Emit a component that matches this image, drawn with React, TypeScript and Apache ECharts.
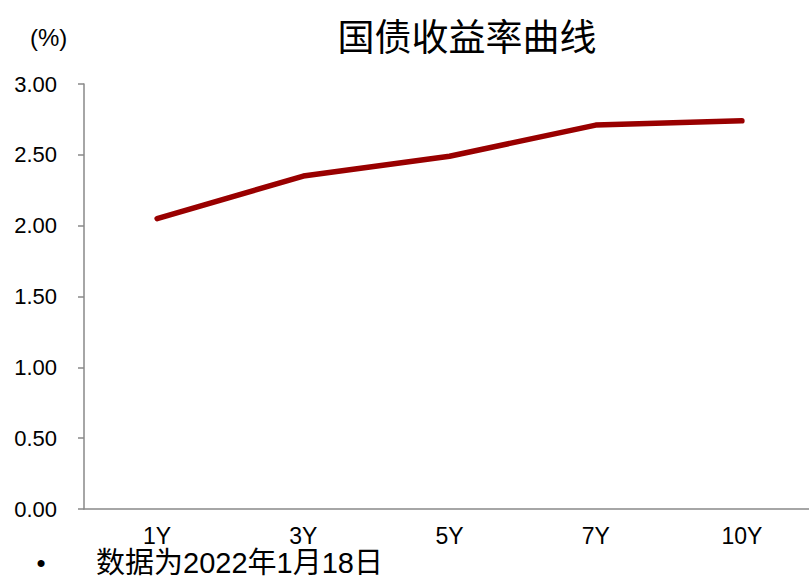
import React, { useEffect, useRef } from "react";
import * as echarts from "echarts";

const categories = ["1Y", "3Y", "5Y", "7Y", "10Y"];
const yields = [2.05, 2.35, 2.49, 2.71, 2.74];
const titleText = "国债收益率曲线";
const unitText = "(%)";
const noteText = "数据为2022年1月18日";

const FONT = "'Liberation Sans', Arial, 'Noto Sans CJK SC', sans-serif";

export default function App() {
  const ref = useRef<HTMLDivElement>(null);
  useEffect(() => {
    if (!ref.current) return;
    const chart = echarts.init(ref.current, null, { renderer: "svg" });
    chart.setOption({
      animation: false,
      backgroundColor: "#ffffff",
      grid: { left: 84, top: 84, width: 731, height: 425, containLabel: false },
      xAxis: {
        type: "category",
        data: categories,
        boundaryGap: true,
        axisLine: { lineStyle: { color: "#898989", width: 1.5 } },
        axisTick: { show: false },
        axisLabel: { color: "#000", fontFamily: FONT, fontSize: 23, margin: 15 },
      },
      yAxis: {
        type: "value",
        min: 0,
        max: 3,
        interval: 0.5,
        splitLine: { show: false },
        axisLine: { show: true, lineStyle: { color: "#898989", width: 1.5 } },
        axisTick: { show: true, length: 6, lineStyle: { color: "#898989", width: 1.5 } },
        axisLabel: {
          color: "#000",
          fontFamily: FONT,
          fontSize: 22,
          margin: 27,
          formatter: (v: number) => v.toFixed(2),
        },
      },
      series: [
        {
          type: "line",
          data: yields,
          symbol: "none",
          lineStyle: { color: "#990000", width: 5.5, cap: "round", join: "round" },
        },
      ],
      graphic: [
        {
          type: "text",
          x: 467,
          y: 38,
          style: {
            text: titleText,
            fontFamily: FONT,
            fontSize: 37,
            fill: "#000",
            align: "center",
            verticalAlign: "middle",
          },
        },
        {
          type: "text",
          x: 30,
          y: 37,
          style: { text: unitText, fontFamily: FONT, fontSize: 24, fill: "#000", verticalAlign: "middle" },
        },
        {
          type: "text",
          x: 41,
          y: 563,
          style: { text: "•", fontFamily: FONT, fontSize: 26, fill: "#000", align: "center", verticalAlign: "middle" },
        },
        {
          type: "text",
          x: 96,
          y: 562.5,
          style: { text: noteText, fontFamily: FONT, fontSize: 29, fill: "#000", verticalAlign: "middle" },
        },
      ],
    });
    return () => chart.dispose();
  }, []);
  return (
    <div style={{ width: 809, height: 577, position: "absolute", left: 0, top: 0, overflow: "hidden" }}>
      <div ref={ref} style={{ width: 830, height: 577, position: "absolute", left: 0, top: 0 }} />
    </div>
  );
}
